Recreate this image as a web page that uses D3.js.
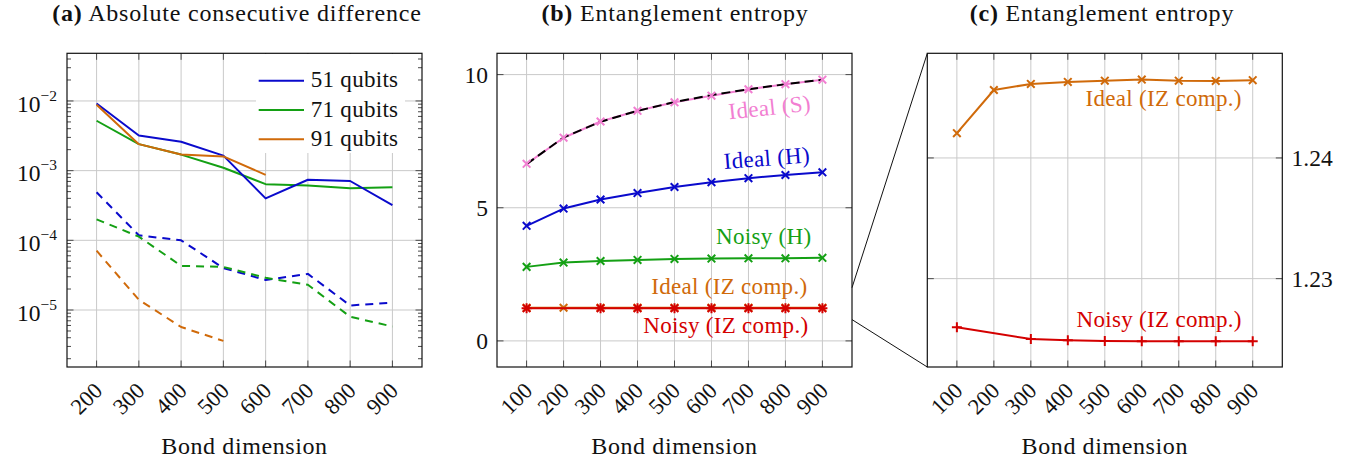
<!DOCTYPE html>
<html><head><meta charset="utf-8">
<script src="https://cdn.jsdelivr.net/npm/d3@7"></script>
<style>
html,body{margin:0;padding:0;background:#fff;}
svg{display:block;}
</style></head>
<body><svg id="c" width="1367" height="464" font-family="Liberation Serif"></svg>
<script>
// ---------- DATA ----------
const bondA = [200,300,400,500,600,700,800,900];
const bondA91 = [200,300,400,500,600];
const bondA91dash = [200,300,400,500];
const diff51 = [9.2e-3,3.2e-3,2.6e-3,1.64e-3,4.0e-4,7.4e-4,7.1e-4,3.2e-4];
const diff71 = [5.2e-3,2.4e-3,1.7e-3,1.1e-3,6.4e-4,6.1e-4,5.6e-4,5.8e-4];
const diff91 = [8.8e-3,2.4e-3,1.7e-3,1.6e-3,8.7e-4];
const diff51dash = [4.9e-4,1.18e-4,1.0e-4,4.0e-5,2.7e-5,3.3e-5,1.16e-5,1.28e-5];
const diff71dash = [2.0e-4,1.13e-4,4.3e-5,4.15e-5,2.9e-5,2.3e-5,8.0e-6,5.8e-6];
const diff91dash = [7.1e-5,1.4e-5,5.7e-6,3.6e-6];
const legendLabels = ["51 qubits","71 qubits","91 qubits"];

const bondB = [100,200,300,400,500,600,700,800,900];
const bondNoisyIZ = [100,300,400,500,600,700,800,900];
const maxEntropy = [6.64,7.64,8.23,8.64,8.97,9.23,9.45,9.64,9.81];
const idealS = [6.65,7.63,8.24,8.64,8.96,9.21,9.45,9.64,9.81];
const idealH = [4.32,4.97,5.31,5.55,5.78,5.96,6.11,6.23,6.33];
const noisyH = [2.78,2.94,3.00,3.04,3.08,3.09,3.10,3.10,3.12];
const idealIZ = [1.24205,1.24563,1.24613,1.24630,1.24640,1.24649,1.24640,1.24638,1.24644];
const noisyIZ = [1.22597,1.22500,1.22490,1.22484,1.22481,1.22481,1.22481,1.22481];

const ticksA = [200,300,400,500,600,700,800,900];
const ticksB = [100,200,300,400,500,600,700,800,900];
const yTicksA = [1e-2,1e-3,1e-4,1e-5];
const yTicksB = [0,5,10];
const yTicksC = [1.23,1.24];
const titles = [["(a)","Absolute consecutive difference"],["(b)","Entanglement entropy"],["(c)","Entanglement entropy"]];
const xLabel = "Bond dimension";

// ---------- STYLE ----------
const C = {blue:"#0a0acc", green:"#14a014", orange:"#d06a0a", pink:"#f27fd2", red:"#d40000", grid:"#c9c9c9", tick:"#4a4a4a"};
const FS = 24, LS = 0.6, LST = 0.8, FL = 23, FN = 23.5;
const FONT = "Liberation Serif";
const yTop = 53.3, yBot = 367;
const svg = d3.select("#c");

const xa = d3.scaleLinear([130,970],[67,422]);
const ya = d3.scaleLog([Math.pow(10,-5.818), Math.pow(10,-1.316)],[yBot,yTop]);
const xb = d3.scaleLinear([20,980],[497,852]);
const yb = d3.scaleLinear([-0.98,10.8],[yBot,yTop]);
const xc = d3.scaleLinear([20,980],[927.3,1282.3]);
const yc = d3.scaleLinear([1.22268,1.24867],[yBot,yTop]);

function txt(sel){ return sel.append("text").attr("font-family",FONT).attr("fill","#111"); }

function frame(x, y, xt, yt, minorY){
  const g = svg.append("g");
  const [x0,x1] = x.range(), y0 = yBot, y1 = yTop;
  g.selectAll(".gx").data(xt).join("line").attr("x1",d=>x(d)).attr("x2",d=>x(d)).attr("y1",y0).attr("y2",y1)
    .attr("stroke",C.grid).attr("stroke-width",1);
  g.selectAll(".gy").data(yt).join("line").attr("y1",d=>y(d)).attr("y2",d=>y(d)).attr("x1",x0).attr("x2",x1)
    .attr("stroke",C.grid).attr("stroke-width",1);
  const tk = svg.append("g").attr("stroke",C.tick).attr("stroke-width",1);
  xt.forEach(d=>{
    tk.append("line").attr("x1",x(d)).attr("x2",x(d)).attr("y1",y0).attr("y2",y0-6.5);
    tk.append("line").attr("x1",x(d)).attr("x2",x(d)).attr("y1",y1).attr("y2",y1+6.5);
  });
  yt.forEach(d=>{
    tk.append("line").attr("y1",y(d)).attr("y2",y(d)).attr("x1",x0).attr("x2",x0+6.5);
    tk.append("line").attr("y1",y(d)).attr("y2",y(d)).attr("x1",x1).attr("x2",x1-6.5);
  });
  (minorY||[]).forEach(d=>{
    tk.append("line").attr("y1",y(d)).attr("y2",y(d)).attr("x1",x0).attr("x2",x0+4);
    tk.append("line").attr("y1",y(d)).attr("y2",y(d)).attr("x1",x1).attr("x2",x1-4);
  });
  return g;
}
function box(x){
  const [x0,x1] = x.range();
  svg.append("rect").attr("x",x0).attr("y",yTop).attr("width",x1-x0).attr("height",yBot-yTop)
    .attr("fill","none").attr("stroke","#111").attr("stroke-width",1.2);
}
function xTickLabels(x, xt){
  xt.forEach(d=>{
    txt(svg).attr("transform",`translate(${x(d)+7},392) rotate(-45)`)
      .attr("text-anchor","end").attr("font-size",22.5).text(d);
  });
}
function xTitle(x){
  const [x0,x1] = x.range();
  txt(svg).attr("x",(x0+x1)/2).attr("y",454).attr("text-anchor","middle").attr("font-size",FS)
    .attr("letter-spacing",LS).text(xLabel);
}
function title(cx, t){
  const tx = txt(svg).attr("x",cx).attr("y",21).attr("text-anchor","middle").attr("font-size",FS).attr("letter-spacing",LST);
  tx.append("tspan").attr("font-weight","bold").text(t[0]);
  tx.append("tspan").text(" "+t[1]);
}
function line(x, y, xs, ys, color, dash, w){
  const gen = d3.line().x((d,i)=>x(xs[i])).y(d=>y(d));
  svg.append("path").attr("d",gen(ys)).attr("fill","none").attr("stroke",color)
    .attr("stroke-width",w||2).attr("stroke-dasharray",dash||null).attr("stroke-linejoin","round");
}
function markers(x, y, xs, ys, color, kind){
  const p = kind==="plus" ? "M-5,0L5,0M0,-5L0,5" : "M-3.8,-3.8L3.8,3.8M-3.8,3.8L3.8,-3.8";
  svg.append("g").selectAll("path").data(ys).join("path")
    .attr("transform",(d,i)=>`translate(${x(xs[i])},${y(d)})`).attr("d",p)
    .attr("stroke",color).attr("stroke-width",2).attr("fill","none");
}
function label(px, py, s, color, rot){
  txt(svg).attr("transform",`translate(${px},${py}) rotate(${rot||0})`).attr("text-anchor","end")
    .attr("font-size",FL).attr("letter-spacing",0.3).attr("fill",color).text(s);
}

// ---------- PANEL A ----------
const minorA = [];
[-6,-5,-4,-3,-2].forEach(e=>{ for(let m=2;m<=9;m++){ const v=m*Math.pow(10,e); if(v>ya.domain()[0] && v<ya.domain()[1]) minorA.push(v);} });
frame(xa, ya, ticksA, yTicksA, minorA);
line(xa, ya, bondA, diff51dash, C.blue, "8,6");
line(xa, ya, bondA, diff71dash, C.green, "8,6");
line(xa, ya, bondA91dash, diff91dash, C.orange, "8,6");
line(xa, ya, bondA, diff71, C.green);
line(xa, ya, bondA, diff51, C.blue);
line(xa, ya, bondA91, diff91, C.orange);
svg.append("rect").attr("x",256).attr("y",54).attr("width",149).attr("height",99).attr("fill","#fff");
[C.blue,C.green,C.orange].forEach((c,i)=>{
  const ly = 80.7 + i*29.3;
  svg.append("line").attr("x1",258.7).attr("x2",304).attr("y1",ly).attr("y2",ly).attr("stroke",c).attr("stroke-width",2);
  txt(svg).attr("x",310.7).attr("y",ly+6.7).attr("font-size",FL).attr("letter-spacing",0.3).text(legendLabels[i]);
});
box(xa);
xTickLabels(xa, ticksA);
yTicksA.forEach(d=>{
  const t = txt(svg).attr("x",57).attr("y",ya(d)+10.7).attr("text-anchor","end").attr("font-size",FN);
  t.append("tspan").text("10");
  t.append("tspan").attr("dy",-11).attr("font-size",15.5).text("\u2212"+Math.round(-Math.log10(d)));
});
xTitle(xa);
title(237, titles[0]);

// ---------- PANEL B ----------
frame(xb, yb, ticksB, yTicksB);
line(xb, yb, bondB, idealS, C.pink);
line(xb, yb, bondB, maxEntropy, "#000", "9,5");
markers(xb, yb, bondB, idealS, C.pink);
line(xb, yb, bondB, idealH, C.blue);
markers(xb, yb, bondB, idealH, C.blue);
line(xb, yb, bondB, noisyH, C.green);
markers(xb, yb, bondB, noisyH, C.green);
line(xb, yb, bondB, idealIZ, C.orange);
markers(xb, yb, bondB, idealIZ, C.orange);
line(xb, yb, bondNoisyIZ, noisyIZ, C.red);
markers(xb, yb, bondNoisyIZ, noisyIZ, C.red, "plus");
markers(xb, yb, bondNoisyIZ, noisyIZ, C.red);
box(xb);
xTickLabels(xb, ticksB);
yTicksB.forEach(d=>{
  txt(svg).attr("x",488).attr("y",yb(d)+8).attr("text-anchor","end").attr("font-size",FN).text(d);
});
xTitle(xb);
title(675, titles[1]);
label(xb(900)-11, yb(9.81)+31, "Ideal (S)", C.pink, -6);
label(xb(900)-12, yb(6.33)-10, "Ideal (H)", C.blue, -4.5);
label(xb(900)-11, yb(3.12)-14, "Noisy (H)", C.green, 0);
label(xb(900)-15, yb(1.23)-14, "Ideal (IZ comp.)", C.orange, 0);
label(xb(900)-14, yb(1.23)+24.5, "Noisy (IZ comp.)", C.red, 0);

// ---------- PANEL C ----------
frame(xc, yc, ticksB, yTicksC);
line(xc, yc, bondB, idealIZ, C.orange);
markers(xc, yc, bondB, idealIZ, C.orange);
line(xc, yc, bondNoisyIZ, noisyIZ, C.red);
markers(xc, yc, bondNoisyIZ, noisyIZ, C.red, "plus");
box(xc);
xTickLabels(xc, ticksB);
yTicksC.forEach(d=>{
  txt(svg).attr("x",1291.5).attr("y",yc(d)+8).attr("text-anchor","start").attr("font-size",FN).text(d.toFixed(2));
});
xTitle(xc);
title(1102, titles[2]);
label(xc(900)-11, yc(1.24644)+26, "Ideal (IZ comp.)", C.orange, 0);
label(xc(900)-11, yc(1.22481)-14.5, "Noisy (IZ comp.)", C.red, 0);

// ---------- zoom connectors ----------
const zoomHi = 2.0, zoomLo = 0.8;
const cx0 = xb.range()[1], cx1 = xc.range()[0];
svg.append("line").attr("x1",cx0).attr("y1",yb(zoomHi)).attr("x2",cx1).attr("y2",yTop).attr("stroke","#111").attr("stroke-width",1);
svg.append("line").attr("x1",cx0).attr("y1",yb(zoomLo)).attr("x2",cx1).attr("y2",yBot).attr("stroke","#111").attr("stroke-width",1);
</script></body></html>
